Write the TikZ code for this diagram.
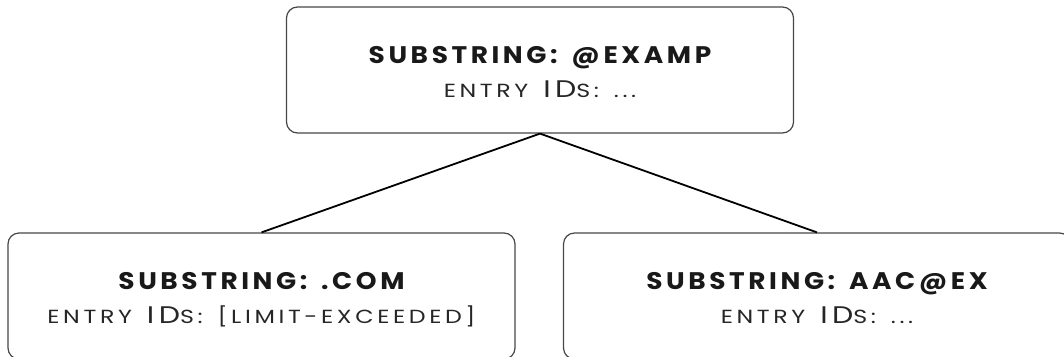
\documentclass[tikz,border=0pt]{standalone}
\usepackage{fontspec}
\setmainfont{Poppins}
\newfontfamily\ttlfont{Poppins}[LetterSpace=15,FakeStretch=1.1,WordSpace=1.5]
\newfontfamily\subfont{Poppins}[LetterSpace=19,FakeStretch=1.25,WordSpace=1.5]
\newcommand{\bigc}[1]{{\fontsize{24}{30}\selectfont #1}}
\begin{document}
\begin{tikzpicture}[x=1pt,y=-1pt,
  box/.style={draw=black!72, line width=1.2pt, rounded corners=11pt,
    minimum width=507pt, minimum height=126pt, inner sep=0pt},
  edge/.style={draw=black, line width=1.8pt},
  ttl/.style={anchor=base, inner sep=0pt, text=black!90,
    font=\ttlfont\bfseries\fontsize{24}{30}\selectfont},
  sub/.style={anchor=base, inner sep=0pt, text=black!85,
    font=\subfont\fontsize{19}{30}\selectfont}]
\useasboundingbox (0,0) rectangle (1064,356);
\node[box] (top) at (540,70) {};
\node[box] (left) at (261.5,296) {};
\node[box] (right) at (817,296) {};
\node[ttl] (ttop) at (540,63) {SUBSTRING: @EXAMP};
\node[sub] (stop) at (540,97) {ENTRY \bigc{ID}S: ...};
\node[ttl] (tleft) at (261.5,289) {SUBSTRING: .COM};
\node[sub] (sleft) at (261.5,323) {ENTRY \bigc{ID}S: [LIMIT-EXCEEDED]};
\node[ttl] (tright) at (817,289) {SUBSTRING: AAC@EX};
\node[sub] (sright) at (817,323) {ENTRY \bigc{ID}S: ...};
\draw[edge] (top.south) -- (left.north);
\draw[edge] (top.south) -- (right.north);
\end{tikzpicture}
\end{document}
